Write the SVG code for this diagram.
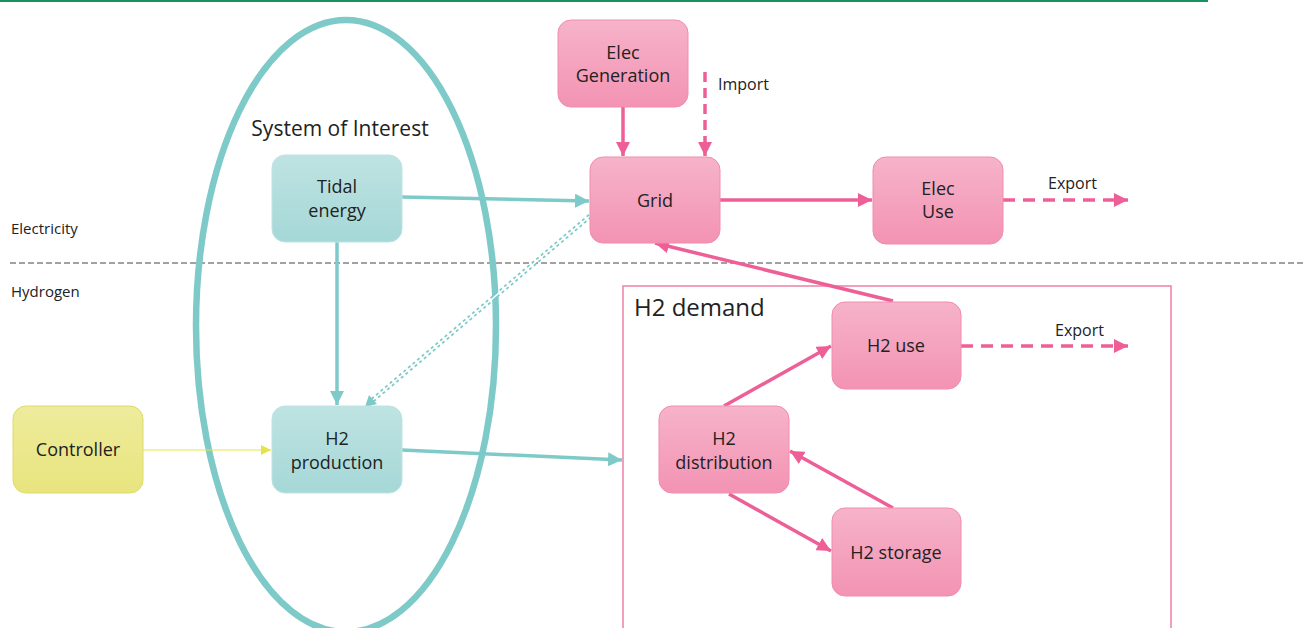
<svg xmlns="http://www.w3.org/2000/svg" width="1304" height="628" viewBox="0 0 1304 628">
<style>
  .t{font-family:"Open Sans","Noto Sans","DejaVu Sans",sans-serif;fill:#222;}
  .n{font-size:18px;text-anchor:middle;}
  .pink rect{fill:url(#gp);stroke:#f28cb0;stroke-width:1;}
  .teal rect{fill:url(#gt);stroke:#bfe3e2;stroke-width:1;}
  .yel rect{fill:url(#gy);stroke:#dedb6a;stroke-width:1;}
  .pl{stroke:#ee5f97;stroke-width:3.5;fill:none;}
  .tl{stroke:#7ecac8;stroke-width:3.5;fill:none;}
</style>
<defs>
  <linearGradient id="gp" x1="0" y1="0" x2="0" y2="1"><stop offset="0" stop-color="#f6b3c9"/><stop offset="1" stop-color="#f393b3"/></linearGradient>
  <linearGradient id="gt" x1="0" y1="0" x2="0" y2="1"><stop offset="0" stop-color="#bee3e2"/><stop offset="1" stop-color="#a5d8d7"/></linearGradient>
  <linearGradient id="gy" x1="0" y1="0" x2="0" y2="1"><stop offset="0" stop-color="#eeeb9c"/><stop offset="1" stop-color="#e8e57f"/></linearGradient>
  <marker id="ap" viewBox="0 0 10 10" refX="10" refY="5" markerWidth="14" markerHeight="14" markerUnits="userSpaceOnUse" orient="auto"><path d="M0,0 L10,5 L0,10 z" fill="#ee5f97"/></marker>
  <marker id="at" viewBox="0 0 10 10" refX="10" refY="5" markerWidth="14" markerHeight="14" markerUnits="userSpaceOnUse" orient="auto"><path d="M0,0 L10,5 L0,10 z" fill="#7ecac8"/></marker>
  <marker id="ay" viewBox="0 0 10 10" refX="10" refY="5" markerWidth="10" markerHeight="10" markerUnits="userSpaceOnUse" orient="auto"><path d="M0,0 L10,5 L0,10 z" fill="#e6e34a"/></marker>
</defs>
<rect x="0" y="0" width="1304" height="628" fill="#fff"/>
<line x1="0" y1="1" x2="1208" y2="1" stroke="#16935f" stroke-width="2"/>
<line x1="10" y1="263" x2="1304" y2="263" stroke="#444" stroke-width="1" stroke-dasharray="6 3"/>
<text class="t" x="11" y="234" font-size="15">Electricity</text>
<text class="t" x="11" y="297" font-size="15">Hydrogen</text>

<g id="system-of-interest">
  <ellipse cx="346" cy="326" rx="150" ry="306" fill="none" stroke="#7ecac8" stroke-width="6.5"/>
  <text class="t" x="340" y="136" font-size="21" text-anchor="middle">System of Interest</text>
</g>
<g id="h2-demand">
  <rect x="623" y="286" width="548" height="350" fill="none" stroke="#ee7fa8" stroke-width="1.5"/>
  <text class="t" x="634" y="316" font-size="24">H2 demand</text>
</g>

<g id="connectors">
  <line class="pl" x1="623" y1="107" x2="623" y2="156" marker-end="url(#ap)"/>
  <line class="pl" x1="705" y1="72" x2="705" y2="156" stroke-dasharray="10 6" marker-end="url(#ap)"/>
  <line class="tl" x1="402" y1="197" x2="589" y2="201" marker-end="url(#at)"/>
  <line class="pl" x1="720" y1="200" x2="872" y2="200" marker-end="url(#ap)"/>
  <line class="pl" x1="1003" y1="200" x2="1128" y2="200" stroke-dasharray="12 8" marker-end="url(#ap)"/>
  <g>
    <line x1="590" y1="216" x2="368" y2="404" stroke="#7ecac8" stroke-width="5" stroke-dasharray="3 3"/>
    <line x1="590" y1="216" x2="368" y2="404" stroke="#fff" stroke-width="1.5"/>
    <path d="M365,407 L369,395 L377,404 z" fill="#7ecac8"/>
  </g>
  <line class="tl" x1="337" y1="242" x2="337" y2="405" marker-end="url(#at)"/>
  <line x1="143" y1="450" x2="271" y2="450" stroke="#e6e34a" stroke-width="1.2" marker-end="url(#ay)"/>
  <line class="tl" x1="402" y1="450" x2="622" y2="460" marker-end="url(#at)"/>
  <line class="pl" x1="893" y1="301" x2="655" y2="243" marker-end="url(#ap)"/>
  <line class="pl" x1="724" y1="406" x2="831" y2="346" marker-end="url(#ap)"/>
  <line class="pl" x1="961" y1="346" x2="1128" y2="346" stroke-dasharray="12 8" marker-end="url(#ap)"/>
  <line class="pl" x1="893" y1="508" x2="790" y2="451" marker-end="url(#ap)"/>
  <line class="pl" x1="729" y1="494" x2="831" y2="551" marker-end="url(#ap)"/>
  <text class="t" x="718" y="90" font-size="16">Import</text>
  <text class="t" x="1048" y="189" font-size="16">Export</text>
  <text class="t" x="1055" y="336" font-size="16">Export</text>
</g>

<g id="elec-generation" class="pink"><rect x="558" y="20" width="130" height="87" rx="13"/><text class="t n" x="623" y="59">Elec</text><text class="t n" x="623" y="82">Generation</text></g>
<g id="grid" class="pink"><rect x="590" y="157" width="130" height="86" rx="13"/><text class="t n" x="655" y="207">Grid</text></g>
<g id="elec-use" class="pink"><rect x="873" y="157" width="130" height="87" rx="13"/><text class="t n" x="938" y="195">Elec</text><text class="t n" x="938" y="218">Use</text></g>
<g id="tidal-energy" class="teal"><rect x="272" y="155" width="130" height="87" rx="13"/><text class="t n" x="337" y="193">Tidal</text><text class="t n" x="337" y="217">energy</text></g>
<g id="h2-production" class="teal"><rect x="272" y="406" width="130" height="87" rx="13"/><text class="t n" x="337" y="445">H2</text><text class="t n" x="337" y="469">production</text></g>
<g id="controller" class="yel"><rect x="13" y="406" width="130" height="87" rx="13"/><text class="t n" x="78" y="456">Controller</text></g>
<g id="h2-use" class="pink"><rect x="832" y="302" width="129" height="87" rx="13"/><text class="t n" x="896" y="352">H2 use</text></g>
<g id="h2-distribution" class="pink"><rect x="659" y="406" width="130" height="87" rx="13"/><text class="t n" x="724" y="445">H2</text><text class="t n" x="724" y="469">distribution</text></g>
<g id="h2-storage" class="pink"><rect x="832" y="508" width="129" height="88" rx="13"/><text class="t n" x="896" y="559">H2 storage</text></g>
</svg>
